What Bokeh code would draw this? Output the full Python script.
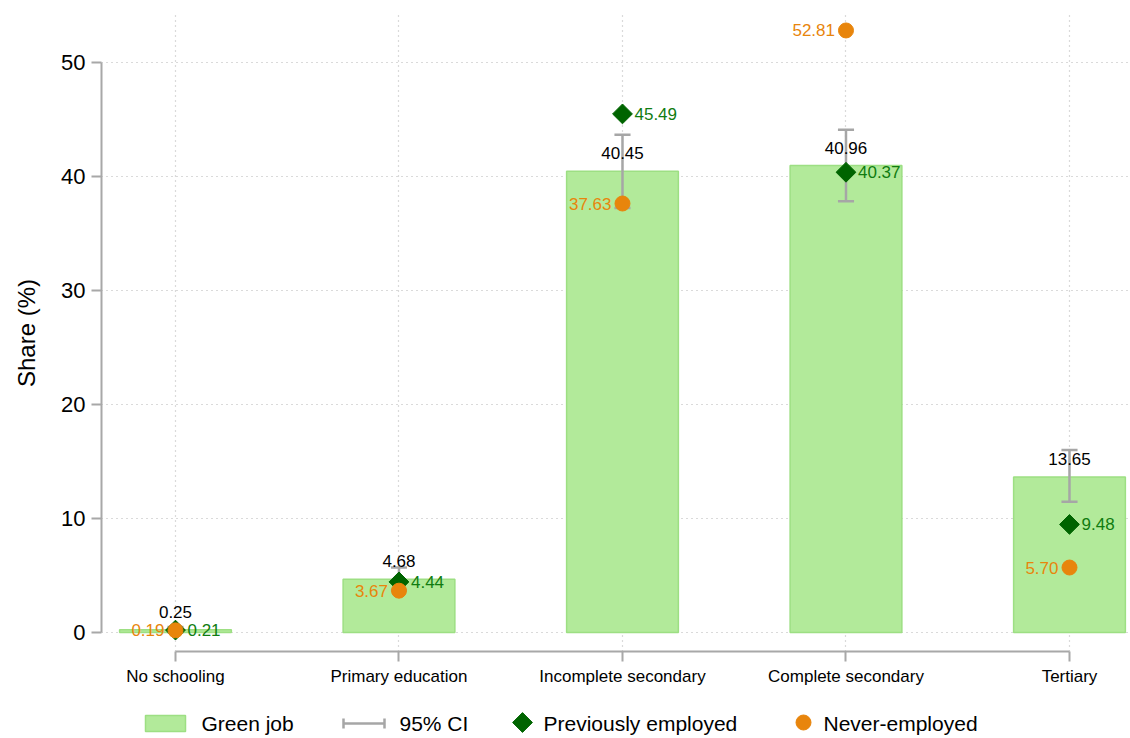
import math
from bokeh.plotting import figure
from bokeh.layouts import column
from bokeh.models import FixedTicker, ColumnDataSource
from bokeh.core.properties import value
from bokeh.embed import file_html
from bokeh.resources import INLINE

categories = ["No schooling", "Primary education", "Incomplete secondary", "Complete secondary", "Tertiary"]
green_job = [0.25, 4.68, 40.45, 40.96, 13.65]
ci_low = [0.02, 3.70, 37.24, 37.83, 11.47]
ci_high = [0.48, 5.70, 43.66, 44.09, 16.00]
prev_employed = [0.21, 4.44, 45.49, 40.37, 9.48]
never_employed = [0.19, 3.67, 37.63, 52.81, 5.70]
y_ticks = [0, 10, 20, 30, 40, 50]
legend_labels = ["Green job", "95% CI", "Previously employed", "Never-employed"]

FONT = "Liberation Sans"
BAR_FILL = "#b2ea9a"
BAR_LINE = "#9ddf83"
CI_COL = "#a6a6a6"
DIAM_COL = "#006400"
DIAM_TXT = "#107c10"
ORANGE = "#e8850c"
ROT = math.pi / 4

xs = list(range(len(categories)))
src = ColumnDataSource(dict(
    x=xs, top=green_job, lo=ci_low, hi=ci_high,
    prev=prev_employed, never=never_employed,
    lab_top=[f"{v:.2f}" for v in green_job],
    lab_prev=[f"{v:.2f}" for v in prev_employed],
    lab_never=[f"{v:.2f}" for v in never_employed],
))

p = figure(width=1130, height=703, output_backend="svg", toolbar_location=None,
           x_range=(-0.331, 4.264), y_range=(-1.667, 54.21),
           min_border_left=101, min_border_right=2, min_border_top=14, min_border_bottom=52)
p.outline_line_color = None
p.background_fill_color = "white"
p.border_fill_color = "white"

# grids
p.xgrid.ticker = FixedTicker(ticks=xs)
p.ygrid.ticker = FixedTicker(ticks=y_ticks)
for g in (p.xgrid, p.ygrid):
    g.grid_line_color = "#b5b5b5"
    g.grid_line_dash = "1 4"
    g.grid_line_width = 1.2

# axes
p.yaxis.ticker = FixedTicker(ticks=y_ticks)
p.yaxis.bounds = (0, 50)
p.yaxis.axis_label = "Share (%)"
p.yaxis.axis_label_text_font = FONT
p.yaxis.axis_label_text_font_size = "24px"
p.yaxis.axis_label_text_font_style = "normal"
p.yaxis.axis_label_text_color = "black"
p.yaxis.axis_label_standoff = 18
p.yaxis.major_label_text_font = FONT
p.yaxis.major_label_text_font_size = "22px"
p.yaxis.major_label_text_color = "black"
p.yaxis.major_label_standoff = 6
p.yaxis.major_label_orientation = "horizontal"

p.xaxis.ticker = FixedTicker(ticks=xs)
p.xaxis.bounds = (0, 4)
p.xaxis.major_label_overrides = {i: c for i, c in enumerate(categories)}
p.xaxis.major_label_text_font = FONT
p.xaxis.major_label_text_font_size = "17px"
p.xaxis.major_label_text_color = "black"
p.xaxis.major_label_standoff = 5

for ax in (p.xaxis, p.yaxis):
    ax.axis_line_color = "#a8a8a8"
    ax.axis_line_width = 2
    ax.major_tick_line_color = "#a8a8a8"
    ax.major_tick_line_width = 2
    ax.major_tick_out = 10
    ax.major_tick_in = 0
    ax.minor_tick_line_color = None

# bars
p.vbar(x="x", top="top", bottom=0, width=0.5, source=src,
       fill_color=BAR_FILL, line_color=BAR_LINE, line_width=1.5)

# CI
cap = 0.036
p.segment(x0="x", y0="lo", x1="x", y1="hi", source=src, line_color=CI_COL, line_width=2.5)
src.data["xl"] = [x - cap for x in xs]
src.data["xr"] = [x + cap for x in xs]
p.segment(x0="xl", y0="hi", x1="xr", y1="hi", source=src, line_color=CI_COL, line_width=2.5)
p.segment(x0="xl", y0="lo", x1="xr", y1="lo", source=src, line_color=CI_COL, line_width=2.5)

# markers
p.scatter(x="x", y="prev", source=src, marker="square", size=14, angle=ROT,
          fill_color=DIAM_COL, line_color=DIAM_COL)
p.scatter(x="x", y="never", source=src, marker="circle", size=15,
          fill_color=ORANGE, line_color=ORANGE)

# labels
p.text(x="x", y="top", text="lab_top", source=src, y_offset=-18,
       text_align="center", text_baseline="middle", text_color="black",
       text_font=value(FONT), text_font_size="17px")
p.text(x="x", y="prev", text="lab_prev", source=src, x_offset=12,
       text_align="left", text_baseline="middle", text_color=DIAM_TXT,
       text_font=value(FONT), text_font_size="17px")
p.text(x="x", y="never", text="lab_never", source=src, x_offset=-11,
       text_align="right", text_baseline="middle", text_color=ORANGE,
       text_font=value(FONT), text_font_size="17px")

# legend (separate strip, pixel coordinates aligned with the main frame)
lg = figure(width=1130, height=35, output_backend="svg", toolbar_location=None,
            x_range=(101, 1128), y_range=(738, 703),
            min_border_left=101, min_border_right=2,
            min_border_top=0, min_border_bottom=0)
lg.axis.visible = False
lg.grid.visible = False
lg.outline_line_color = None
lg.rect(x=[165], y=[723], width=40, height=16, fill_color=BAR_FILL, line_color=BAR_LINE, line_width=1.5)
lg.segment(x0=[343], y0=[723], x1=[384], y1=[723], line_color=CI_COL, line_width=2.5)
lg.segment(x0=[343, 384], y0=[718, 718], x1=[343, 384], y1=[728, 728], line_color=CI_COL, line_width=2.5)
lg.scatter(x=[522], y=[722], marker="square", size=14, angle=ROT, fill_color=DIAM_COL, line_color=DIAM_COL)
lg.scatter(x=[803], y=[722], marker="circle", size=15, fill_color=ORANGE, line_color=ORANGE)
lg.text(x=[201, 399, 543, 823], y=[723] * 4, text=legend_labels,
        text_align="left", text_baseline="middle", text_color="black",
        text_font=value(FONT), text_font_size="21px")

layout = column(p, lg, spacing=0)
open("out.html", "w").write(file_html(layout, INLINE))
